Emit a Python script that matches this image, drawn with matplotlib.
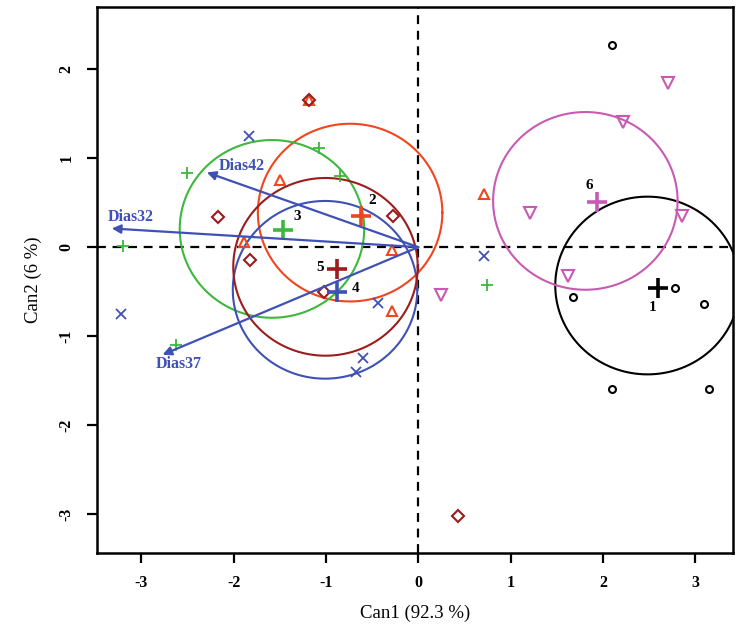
import numpy as np
import matplotlib
matplotlib.use("Agg")
import matplotlib.pyplot as plt

# ============================================================
# DATA (canonical scores)
# ============================================================

g1_x = [2.10, 1.68, 2.78, 3.09, 2.10, 3.15]
g1_y = [2.27, -0.56, -0.46, -0.64, -1.60, -1.60]

g2_x = [-1.50, -0.29, -0.28, 0.71, -1.18, -1.89]
g2_y = [0.76, -0.03, -0.72, 0.60, 1.66, 0.06]

g3_x = [-1.08, -2.50, -0.85, -3.20, -2.62, 0.74]
g3_y = [1.12, 0.83, 0.80, 0.01, -1.10, -0.43]

g4_x = [-1.83, -0.44, -3.22, -0.60, -0.68, 0.71]
g4_y = [1.25, -0.63, -0.75, -1.25, -1.40, -0.10]

g5_x = [-1.18, -2.17, -0.27, -1.82, -1.02, 0.43]
g5_y = [1.66, 0.34, 0.35, -0.15, -0.51, -3.02]

g6_x = [2.70, 2.22, 1.21, 2.86, 1.62, 0.25]
g6_y = [1.85, 1.41, 0.38, 0.35, -0.33, -0.54]

group_labels = ["1", "2", "3", "4", "5", "6"]
centroid_x = [2.60, -0.62, -1.46, -0.88, -0.88, 1.94]
centroid_y = [-0.46, 0.35, 0.19, -0.50, -0.25, 0.51]

vec_names = ["Dias32", "Dias42", "Dias37"]
vec_x = [-3.32, -2.29, -2.77]
vec_y = [0.21, 0.84, -1.21]

# ============================================================
# STYLE
# ============================================================

colors = ['#000000', '#F2441D', '#3DB83D', '#3F51B5', '#9B1C1C', '#C85AB4']
markers = ['o', '^', '+', 'x', 'D', 'v']
msizes = [5, 7, 9, 7, 6, 8]
lab_off = [(-4, -14), (8, 11), (10, 10), (13, 2), (-12, 1), (-6, 12)]
vec_lab = [(-3.12, 0.34), (-1.91, 0.91), (-2.60, -1.31)]
vec_col = '#3F51B5'

plt.rcParams['font.family'] = ['Liberation Serif', 'DejaVu Serif']

groups_x = [g1_x, g2_x, g3_x, g4_x, g5_x, g6_x]
groups_y = [g1_y, g2_y, g3_y, g4_y, g5_y, g6_y]

# ============================================================
# PLOT
# ============================================================

fig = plt.figure(figsize=(7.43, 6.29), dpi=100)
ax = fig.add_axes([0.1306, 0.1208, 0.856, 0.868])

ax.axhline(0, color='black', lw=1.6, ls=(0, (4, 3)), zorder=1)
ax.axvline(0, color='black', lw=1.6, ls=(0, (4, 3)), zorder=1)

theta = np.linspace(0, 2 * np.pi, 300)
radius = np.sqrt(5.991 / 6)

for i in range(6):
    gx = np.array(groups_x[i])
    gy = np.array(groups_y[i])
    c = colors[i]
    if markers[i] in ['+', 'x']:
        ax.plot(gx, gy, ls='none', marker=markers[i], ms=msizes[i],
                mew=1.3, color=c, zorder=3)
    else:
        ax.plot(gx, gy, ls='none', marker=markers[i], ms=msizes[i],
                mew=1.5, mfc='none', mec=c, zorder=3)
    # confidence circle round group mean
    ax.plot(gx.mean() + radius * np.cos(theta),
            gy.mean() + radius * np.sin(theta),
            color=c, lw=1.5, zorder=2)
    # centroid
    ax.plot(centroid_x[i], centroid_y[i], ls='none', marker='+', ms=15,
            mew=2.6, color=c, zorder=4)
    ax.annotate(group_labels[i], (centroid_x[i], centroid_y[i]),
                xytext=lab_off[i], textcoords='offset points',
                ha='center', va='center', fontsize=11, fontweight='bold',
                color='black', zorder=5)

# ============================================================
# VECTORS
# ============================================================

for i in range(3):
    ax.annotate('', xy=(vec_x[i], vec_y[i]), xytext=(0, 0),
                arrowprops=dict(arrowstyle='-|>', color=vec_col, lw=1.6,
                                mutation_scale=13, shrinkA=0, shrinkB=0),
                zorder=4)
    ax.text(vec_lab[i][0], vec_lab[i][1], vec_names[i], color=vec_col,
            fontsize=11.5, fontweight='bold', ha='center', va='center',
            zorder=5)

# ============================================================
# AXES
# ============================================================

ax.set_xlim(-3.48, 3.41)
ax.set_ylim(-3.44, 2.70)

ax.set_xticks([-3, -2, -1, 0, 1, 2, 3])
ax.set_yticks([-3, -2, -1, 0, 1, 2])
ax.set_xticklabels(['-3', '-2', '-1', '0', '1', '2', '3'], fontweight='bold')
ax.set_yticklabels(['-3', '-2', '-1', '0', '1', '2'], fontweight='bold',
                   rotation=90, va='center')
ax.tick_params(direction='out', length=7, width=1.6, labelsize=11.5, pad=9)

for s in ax.spines.values():
    s.set_linewidth(1.8)

ax.set_xlabel('Can1 (92.3 %)', fontsize=13.5, labelpad=10)
ax.set_ylabel('Can2 (6 %)', fontsize=13.5, labelpad=12)

plt.savefig('out.png', dpi=100)
